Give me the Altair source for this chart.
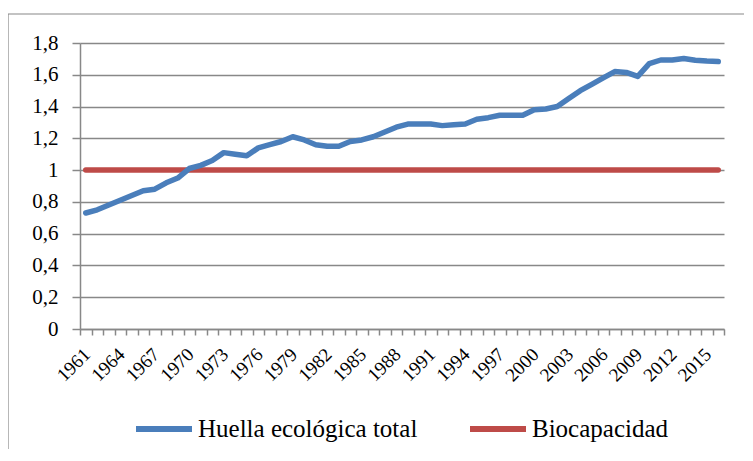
import altair as alt
import pandas as pd

years = list(range(1961, 2017))
huella = [0.73, 0.75, 0.78, 0.81, 0.84, 0.87, 0.88, 0.92, 0.95, 1.01,
          1.03, 1.06, 1.11, 1.10, 1.09, 1.14, 1.16, 1.18, 1.21, 1.19,
          1.16, 1.15, 1.15, 1.18, 1.19, 1.21, 1.24, 1.27, 1.29, 1.29,
          1.29, 1.28, 1.285, 1.29, 1.32, 1.33, 1.345, 1.345, 1.345, 1.38,
          1.385, 1.40, 1.45, 1.50, 1.54, 1.58, 1.62, 1.615, 1.59, 1.67,
          1.693, 1.693, 1.703, 1.692, 1.686, 1.683]
biocapacidad = [1.0] * len(years)
series = ["Huella ecológica total", "Biocapacidad"]
colors = ["#4A7EBB", "#BE4B48"]
y_ticks = [0, 0.2, 0.4, 0.6, 0.8, 1.0, 1.2, 1.4, 1.6, 1.8]

df = pd.concat([
    pd.DataFrame({"year": years, "value": huella, "serie": series[0]}),
    pd.DataFrame({"year": years, "value": biocapacidad, "serie": series[1]}),
])

FONT = "'Liberation Serif', 'DejaVu Serif', serif"
GRAY = "#888888"

x = alt.X("year:O", title=None,
          axis=alt.Axis(tickBand="extent", labelAngle=-45, labelAlign="right",
                        labelBaseline="middle", labelFontSize=19, labelFont=FONT,
                        labelColor="black", labelPadding=16, labelOffset=1,
                        tickSize=6, tickColor=GRAY, domainColor=GRAY, tickWidth=1.5,
                        domainWidth=1.5, grid=False,
                        labelExpr="(datum.value - 1961) % 3 == 0 ? datum.label : ''"),
          scale=alt.Scale(paddingInner=0, paddingOuter=0))
y = alt.Y("value:Q", title=None,
          scale=alt.Scale(domain=[0, 1.8], nice=False),
          axis=alt.Axis(values=y_ticks, grid=True, gridColor=GRAY, gridWidth=1.5,
                        tickSize=8, tickColor=GRAY, tickWidth=1.5, domainColor=GRAY,
                        domainWidth=1.5, labelFontSize=21, labelFont=FONT,
                        labelColor="black", labelPadding=14,
                        labelExpr="replace(format(datum.value, '.1~f'), '.', ',')"))
color = alt.Color("serie:N", title=None,
                  scale=alt.Scale(domain=series, range=colors),
                  legend=alt.Legend(orient="none", direction="horizontal",
                                    legendX=53, legendY=355,
                                    symbolType="stroke", symbolSize=3136,
                                    symbolStrokeWidth=6, labelOffset=3,
                                    columnPadding=40, labelFontSize=25,
                                    labelFont=FONT, labelColor="black",
                                    labelLimit=400))

border = alt.Chart(alt.Data(values=[{}])).mark_rect(
    fill=None, stroke=GRAY, strokeWidth=1.2
).encode(x=alt.value(-72), x2=alt.value(720), y=alt.value(-29), y2=alt.value(460))

red = alt.Chart(df).transform_filter(
    alt.datum.serie == series[1]
).mark_line(strokeWidth=5.5, strokeCap="round").encode(x=x, y=y, color=color)

blue = alt.Chart(df).transform_filter(
    alt.datum.serie == series[0]
).mark_line(strokeWidth=5.5, strokeCap="round", strokeJoin="round").encode(x=x, y=y, color=color)

chart = alt.layer(border, red, blue).properties(
    width=644, height=286,
    autosize=alt.AutoSizeParams(type="none"),
    padding={"left": 72, "top": 35, "right": 20, "bottom": 120},
    background="white",
).configure_view(stroke=None)

chart.save("out.html", embed_options={"renderer": "svg", "actions": False})
